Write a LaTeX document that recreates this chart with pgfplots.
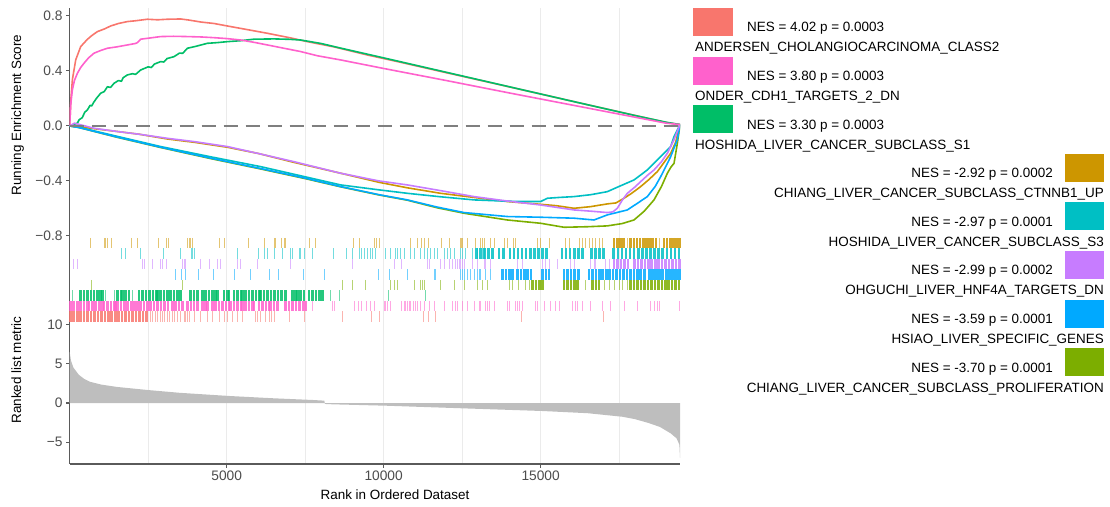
\documentclass[border=0pt]{standalone}
\usepackage{fontspec}
\setmainfont{Liberation Sans}
\usepackage{pgfplots}
\pgfplotsset{compat=1.18}
\definecolor{c1}{HTML}{F8766D}
\definecolor{c2}{HTML}{CD9600}
\definecolor{c3}{HTML}{7CAE00}
\definecolor{c4}{HTML}{00BE67}
\definecolor{c5}{HTML}{00BFC4}
\definecolor{c6}{HTML}{00A9FF}
\definecolor{c7}{HTML}{C77CFF}
\definecolor{c8}{HTML}{FF61CC}
\definecolor{gridc}{HTML}{EBEBEB}
\definecolor{axisc}{HTML}{5A5A5A}
\definecolor{tickc}{HTML}{4D4D4D}
\definecolor{dashc}{HTML}{7F7F7F}
\definecolor{fillc}{HTML}{BEBEBE}
\newcommand\tickf{\fontsize{13.8}{15}\selectfont}
\newcommand\titlef{\fontsize{13.5}{16}\selectfont}
\newcommand\legf{\fontsize{13.5}{16}\selectfont}
\pgfplotsset{
  gsea/.style={
    scale only axis, width=610.3bp, xmin=0, xmax=19440,
    anchor=south west, scaled x ticks=false, scaled y ticks=false,
    axis x line*=bottom, axis y line*=left,
    axis line style={draw=axisc, line width=1.1bp},
    xtick={5000,10000,15000}, minor xtick={2500,7500,12500,17500},
    xmajorgrids=true, xminorgrids=true,
    major grid style={draw=gridc, line width=1bp},
    minor grid style={draw=gridc, line width=0.6bp},
    tick align=outside, major tick length=3.6bp, minor tick length=0bp,
    tick style={draw=axisc, line width=1.1bp},
    tick label style={font=\tickf, text=tickc},
  },
  es/.style={line width=1.6bp, line join=round},
  rugs/.style={only marks, mark=|, mark size=5.23bp, mark options={line width=1bp, draw=#1, draw opacity=0.55}},
  rugd/.style={only marks, mark=|, mark size=5.23bp, mark options={line width=2.6bp, draw=#1, draw opacity=0.85}},
}
\begin{document}
\begin{tikzpicture}[x=1bp,y=1bp]
\useasboundingbox (0,0) rectangle (1110,507);
% ---------------- top panel: running enrichment score
\begin{axis}[gsea, at={(69.7bp,269bp)}, height=230bp,
  ymin=-0.815, ymax=0.858,
  ytick={-0.8,-0.4,0,0.4,0.8}, yticklabels={−0.8,−0.4,0.0,0.4,0.8},
  xticklabels={}, x axis line style={draw=none}, xtick style={draw=none}]
% ANDERSEN
\addplot[es, c1] coordinates {(0,0) (40,0.2) (85,0.335) (191,0.48) (350,0.577) (563,0.63) (720,0.66) (882,0.686) (1100,0.705) (1306,0.727) (1550,0.745) (1837,0.759) (2100,0.765) (2474,0.776) (2800,0.772) (3112,0.776) (3535,0.778) (3800,0.77) (4172,0.756) (4600,0.745) (5022,0.727) (5600,0.703) (6296,0.674) (7000,0.642) (7570,0.613) (8419,0.575) (9481,0.516) (10500,0.465) (12000,0.387) (13500,0.31) (15001,0.232) (16500,0.154) (18000,0.077) (19000,0.025) (19440,0.01)};
% CHIANG CTNNB1
\addplot[es, c2] coordinates {(0,0) (300,-0.005) (775,-0.02) (1500,-0.04) (2200,-0.06) (3112,-0.095) (4000,-0.12) (5022,-0.155) (6000,-0.2) (7144,-0.265) (8631,-0.344) (9852,-0.41) (10754,-0.45) (11816,-0.49) (12878,-0.52) (13940,-0.55) (15001,-0.57) (15500,-0.58) (16063,-0.599) (16594,-0.587) (17125,-0.567) (17400,-0.56) (17656,-0.526) (17900,-0.49) (18187,-0.441) (18450,-0.39) (18718,-0.332) (18950,-0.26) (19143,-0.199) (19300,-0.12) (19440,0.01)};
% CHIANG PROLIFERATION
\addplot[es, c3] coordinates {(0,0) (300,-0.012) (1500,-0.082) (2898,-0.157) (4500,-0.238) (6083,-0.313) (7500,-0.383) (8631,-0.443) (9852,-0.502) (10754,-0.54) (11700,-0.595) (12559,-0.635) (13940,-0.684) (15001,-0.708) (15745,-0.737) (16500,-0.733) (17125,-0.727) (17600,-0.71) (17974,-0.684) (18300,-0.62) (18612,-0.538) (18850,-0.44) (19037,-0.344) (19150,-0.3) (19249,-0.272) (19355,-0.127) (19440,0.01)};
% HOSHIDA S1
\addplot[es, c4] coordinates {(0,0) (120,0.01) (245,0.02) (300,0.045) (400,0.06) (480,0.1) (563,0.116) (650,0.15) (700,0.145) (760,0.17) (850,0.2) (987,0.238) (1100,0.25) (1200,0.285) (1300,0.28) (1412,0.31) (1550,0.33) (1650,0.325) (1700,0.35) (1837,0.371) (2000,0.38) (2100,0.375) (2261,0.407) (2500,0.43) (2600,0.425) (2700,0.45) (2898,0.468) (3000,0.465) (3100,0.49) (3323,0.504) (3500,0.53) (3600,0.528) (3748,0.565) (4000,0.578) (4386,0.601) (4700,0.606) (5022,0.613) (5446,0.62) (5870,0.631) (6200,0.632) (6508,0.633) (7000,0.63) (7357,0.625) (8000,0.6) (8631,0.566) (10000,0.495) (12000,0.39) (14000,0.285) (16000,0.18) (18000,0.076) (19000,0.027) (19440,0.01)};
% HOSHIDA S3
\addplot[es, c5] coordinates {(0,0) (300,-0.01) (1500,-0.075) (2898,-0.15) (4500,-0.225) (6083,-0.296) (7500,-0.37) (8631,-0.429) (9852,-0.465) (10754,-0.49) (11800,-0.515) (12878,-0.538) (14000,-0.548) (15001,-0.55) (15213,-0.526) (15600,-0.52) (16063,-0.514) (16600,-0.5) (17125,-0.478) (17500,-0.44) (17974,-0.393) (18399,-0.32) (18824,-0.223) (19143,-0.15) (19249,-0.078) (19440,0.01)};
% HSIAO
\addplot[es, c6] coordinates {(0,0) (300,-0.012) (1500,-0.08) (2898,-0.155) (4500,-0.235) (6083,-0.31) (7500,-0.38) (8631,-0.441) (9852,-0.5) (10754,-0.538) (11700,-0.59) (12559,-0.63) (13940,-0.659) (15001,-0.664) (16063,-0.671) (16700,-0.684) (17125,-0.647) (17762,-0.611) (18100,-0.56) (18399,-0.514) (18650,-0.44) (18824,-0.369) (19000,-0.29) (19143,-0.223) (19355,-0.1) (19440,0.01)};
% OHGUCHI
\addplot[es, c7] coordinates {(0,0) (150,0.02) (775,-0.017) (1500,-0.04) (2200,-0.06) (3112,-0.09) (4000,-0.115) (5022,-0.15) (6000,-0.2) (7144,-0.26) (8631,-0.344) (9852,-0.4) (10754,-0.429) (11800,-0.47) (12878,-0.514) (13900,-0.545) (15001,-0.575) (16063,-0.611) (16600,-0.62) (17125,-0.63) (17300,-0.625) (17443,-0.599) (17600,-0.54) (17762,-0.49) (18000,-0.445) (18187,-0.405) (18400,-0.36) (18612,-0.32) (18850,-0.26) (19037,-0.199) (19249,-0.1) (19440,0.01)};
% ONDER
\addplot[es, c8] coordinates {(0,0) (30,0.15) (85,0.262) (150,0.33) (245,0.383) (350,0.425) (456,0.456) (600,0.495) (774,0.529) (1000,0.55) (1200,0.565) (1500,0.575) (1837,0.589) (2100,0.6) (2155,0.606) (2261,0.631) (2500,0.638) (2898,0.65) (3300,0.652) (3748,0.65) (4200,0.647) (4597,0.642) (5022,0.635) (5446,0.625) (5900,0.607) (6296,0.589) (6800,0.566) (7357,0.541) (7900,0.51) (8631,0.48) (10000,0.418) (12000,0.33) (14000,0.24) (16000,0.152) (18000,0.064) (19000,0.02) (19440,0.01)};
\addplot[dashc, line width=2.2bp, dash pattern=on 14bp off 8bp] coordinates {(0,0) (19440,0)};
\end{axis}
% ---------------- hits panel
\begin{axis}[gsea, at={(69.7bp,185.3bp)}, height=83.7bp,
  ymin=0, ymax=8, ytick=\empty,
  xticklabels={}, x axis line style={draw=none}, xtick style={draw=none}]
% CHIANG CTNNB1 (row 7.5)
\addplot[rugs=c2] table[y expr=7.5, row sep=\\] {x\\ 669\\ 1094\\ 1147\\ 1200\\ 1327\\ 1964\\ 2156\\ 2814\\ 3069\\ 3133\\ 3749\\ 3802\\ 3855\\ 3908\\ 4768\\ 4917\\ 5681\\ 6213\\ 6510\\ 6561\\ 6742\\ 6827\\ 6869\\ 7623\\ 7836\\ 9036\\ 9227\\ 9715\\ 9779\\ 9864\\ 10862\\ 11075\\ 11202\\ 11308\\ 11415\\ 11840\\ 12105\\ 12434\\ 12477\\ 12519\\ 12668\\ 12934\\ 13090\\ 13157\\ 13197\\ 13409\\ 13515\\ 13834\\ 13940\\ 14152\\ 14205\\ 14896\\ 15002\\ 15267\\ 15798\\ 15905\\ 16223\\ 16329\\ 16435\\ 16542\\ 16648\\ 16754\\ 16860\\ 16967\\ 17760\\ 18800\\};
\addplot[rugd=c2] table[y expr=7.5, row sep=\\] {x\\ 17340\\ 17440\\ 17540\\ 17640\\ 17870\\ 17970\\ 18070\\ 18170\\ 18270\\ 18370\\ 18470\\ 18570\\ 18670\\ 18930\\ 19030\\ 19130\\ 19230\\ 19330\\ 19420\\};
% HOSHIDA S3 (row 6.5)
\addplot[rugs=c5] table[y expr=6.5, row sep=\\] {x\\ 1646\\ 1784\\ 2262\\ 2984\\ 3515\\ 3876\\ 3919\\ 3961\\ 5342\\ 6000\\ 6191\\ 6297\\ 6510\\ 6774\\ 7039\\ 7092\\ 7305\\ 7358\\ 7464\\ 7730\\ 8399\\ 8823\\ 9004\\ 9216\\ 9291\\ 9376\\ 9482\\ 9588\\ 9641\\ 9747\\ 10066\\ 10225\\ 10385\\ 10438\\ 10544\\ 10650\\ 10862\\ 10969\\ 11181\\ 11287\\ 11393\\ 11500\\ 11606\\ 11712\\ 11924\\ 12031\\ 12137\\ 12243\\ 12434\\ 12508\\ 12615\\ 12827\\ 12986\\ 13146\\ 13199\\};
\addplot[rugd=c5] table[y expr=6.5, row sep=\\] {x\\ 12950\\ 13080\\ 13210\\ 13340\\ 13470\\ 13680\\ 13810\\ 14020\\ 14150\\ 14280\\ 14410\\ 14540\\ 14670\\ 14800\\ 14930\\ 15060\\ 15190\\ 15680\\ 15810\\ 15940\\ 16070\\ 16200\\ 16330\\ 16620\\ 16750\\ 16880\\ 17010\\ 17330\\ 17460\\ 17590\\ 17720\\ 17850\\ 17980\\ 18110\\ 18240\\ 18370\\ 18500\\ 18630\\ 18760\\ 18890\\ 19020\\ 19150\\ 19280\\ 19410\\};
% OHGUCHI (row 5.5)
\addplot[rugs=c7] table[y expr=5.5, row sep=\\] {x\\ 117\\ 244\\ 2315\\ 2368\\ 2634\\ 2899\\ 2952\\ 3090\\ 3589\\ 3642\\ 3695\\ 4173\\ 4439\\ 4704\\ 4789\\ 5342\\ 5448\\ 5979\\ 7018\\ 9004\\ 10353\\ 10576\\ 11393\\ 11446\\ 11818\\ 11924\\ 12084\\ 12190\\ 12296\\ 12349\\ 12402\\ 12455\\ 12508\\ 12562\\ 12827\\ 12986\\ 13199\\ 13250\\ 13409\\ 14259\\ 14418\\ 15055\\ 15161\\ 15267\\ 15533\\ 15958\\ 16064\\ 16595\\ 16701\\ 16754\\ 17073\\ 17179\\};
\addplot[rugd=c7] table[y expr=5.5, row sep=\\] {x\\ 17340\\ 17450\\ 17560\\ 17670\\ 17780\\ 17990\\ 18100\\ 18210\\ 18320\\ 18430\\ 18540\\ 18650\\ 18760\\ 18870\\ 18980\\ 19090\\ 19200\\ 19310\\ 19420\\};
% HSIAO (row 4.5)
\addplot[rugs=c6] table[y expr=4.5, row sep=\\] {x\\ 3377\\ 3557\\ 3695\\ 4088\\ 4577\\ 5257\\ 5766\\ 6351\\ 6636\\ 7443\\ 8122\\ 9822\\ 10172\\ 10756\\ 11606\\ 11659\\ 12455\\ 12508\\ 12562\\ 12668\\ 12774\\ 12880\\ 12986\\ 13040\\ 13093\\ 13250\\ 13409\\};
\addplot[rugd=c6] table[y expr=4.5, row sep=\\] {x\\ 13780\\ 13900\\ 14000\\ 14110\\ 14260\\ 14370\\ 14480\\ 14590\\ 14690\\ 15060\\ 15170\\ 15270\\ 15750\\ 15860\\ 15970\\ 16080\\ 16200\\ 16540\\ 16650\\ 16760\\ 16870\\ 16980\\ 17090\\ 17200\\ 17310\\ 17420\\ 17530\\ 17640\\ 17750\\ 17860\\ 17970\\ 18080\\ 18190\\ 18300\\ 18450\\ 18540\\ 18630\\ 18720\\ 18810\\ 18900\\ 18990\\ 19080\\ 19170\\ 19260\\ 19350\\ 19430\\};
% CHIANG PROLIFERATION (row 3.5)
\addplot[rugs=c3] table[y expr=3.5, row sep=\\] {x\\ 690\\ 3589\\ 8685\\ 9004\\ 9429\\ 10225\\ 10331\\ 10438\\ 10969\\ 11181\\ 11234\\ 11308\\ 11818\\ 12243\\ 12562\\ 12986\\ 13146\\ 13303\\ 13993\\ 14099\\ 14290\\ 14524\\ 14630\\ 16435\\ 17020\\ 17179\\ 17338\\ 17498\\ 17604\\ 17763\\};
\addplot[rugd=c3] table[y expr=3.5, row sep=\\] {x\\ 14740\\ 14850\\ 14960\\ 15055\\ 15750\\ 15860\\ 15970\\ 16080\\ 16170\\ 16650\\ 16760\\ 16860\\ 17870\\ 17980\\ 18090\\ 18200\\ 18310\\ 18420\\ 18530\\ 18640\\ 18750\\ 18860\\ 18970\\ 19080\\ 19190\\ 19300\\ 19410\\};
% HOSHIDA S1 (row 2.5)
\addplot[rugs=c4] table[y expr=2.5, row sep=\\] {x\\ 85\\ 1147\\ 1412\\ 1996\\ 8292\\ 8600\\ 10140\\ 11319\\};
\addplot[rugd=c4] table[y expr=2.5, row sep=\\] {x\\ 350\\ 460\\ 570\\ 680\\ 775\\ 880\\ 990\\ 1040\\ 1518\\ 1628\\ 1678\\ 1784\\ 1890\\ 2209\\ 2320\\ 2430\\ 2540\\ 2650\\ 2760\\ 2793\\ 2899\\ 3010\\ 3120\\ 3218\\ 3324\\ 3430\\ 3536\\ 3855\\ 3960\\ 4067\\ 4227\\ 4330\\ 4439\\ 4545\\ 4650\\ 4704\\ 4917\\ 5020\\ 5076\\ 5235\\ 5340\\ 5450\\ 5501\\ 5607\\ 5710\\ 5820\\ 5930\\ 6040\\ 6085\\ 6191\\ 6300\\ 6410\\ 6520\\ 6630\\ 6740\\ 6880\\ 7092\\ 7200\\ 7252\\ 7358\\ 7464\\ 7623\\ 7730\\ 7840\\ 7950\\ 8048\\};
% ONDER (row 1.5)
\addplot[rugs=c8] table[y expr=1.5, row sep=\\] {x\\ 7730\\ 8367\\ 8441\\ 9078\\ 9184\\ 9291\\ 9461\\ 9567\\ 9694\\ 10013\\ 10066\\ 10119\\ 10225\\ 10565\\ 10650\\ 10700\\ 10760\\ 10809\\ 10862\\ 10950\\ 11000\\ 11075\\ 11181\\ 11308\\ 11446\\ 11606\\ 11924\\ 12190\\ 12296\\ 12349\\ 12508\\ 12668\\ 12880\\ 13040\\ 13090\\ 13250\\ 13303\\ 13356\\ 13515\\ 13940\\ 13993\\ 14205\\ 14259\\ 14312\\ 14418\\ 14843\\ 14896\\ 15108\\ 15320\\ 15480\\ 15586\\ 16011\\ 16117\\ 16170\\ 16329\\ 16595\\ 16967\\ 17232\\ 17657\\ 18082\\ 18507\\ 18613\\ 18719\\ 18772\\ 19409\\};
\addplot[rugd=c8] table[y expr=1.5, row sep=\\] {x\\ 20\\ 130\\ 240\\ 350\\ 460\\ 563\\ 616\\ 720\\ 830\\ 940\\ 1040\\ 1094\\ 1200\\ 1310\\ 1420\\ 1465\\ 1518\\ 1630\\ 1740\\ 1850\\ 1960\\ 2070\\ 2156\\ 2262\\ 2370\\ 2480\\ 2580\\ 2686\\ 2800\\ 2910\\ 3020\\ 3130\\ 3271\\ 3377\\ 3480\\ 3589\\ 3749\\ 3860\\ 3960\\ 4067\\ 4227\\ 4330\\ 4386\\ 4545\\ 4650\\ 4760\\ 4870\\ 4980\\ 5080\\ 5129\\ 5235\\ 5340\\ 5450\\ 5501\\ 5607\\ 5710\\ 5820\\ 5873\\ 6032\\ 6140\\ 6250\\ 6351\\ 6404\\ 6510\\ 6614\\ 6880\\ 6990\\ 7100\\ 7210\\ 7320\\ 7430\\ 7517\\};
% ANDERSEN (row 0.5)
\addplot[rugs=c1] table[y expr=0.5, row sep=\\] {x\\ 2580\\ 2650\\ 2720\\ 2800\\ 2880\\ 2950\\ 3030\\ 3100\\ 3180\\ 3260\\ 3350\\ 3430\\ 3536\\ 3642\\ 3700\\ 3760\\ 3802\\ 3961\\ 4173\\ 4386\\ 4545\\ 4758\\ 4917\\ 5023\\ 5182\\ 5342\\ 5501\\ 5925\\ 5979\\ 6085\\ 6244\\ 6351\\ 6423\\ 6510\\ 6986\\ 7464\\ 8685\\ 9609\\ 9853\\ 11266\\ 11415\\ 11659\\ 14386\\ 16988\\};
\addplot[rugd=c1] table[y expr=0.5, row sep=\\] {x\\ 20\\ 130\\ 240\\ 350\\ 460\\ 570\\ 680\\ 790\\ 900\\ 1010\\ 1120\\ 1230\\ 1340\\ 1450\\ 1560\\ 1670\\ 1780\\ 1890\\ 2000\\ 2110\\ 2220\\ 2330\\ 2440\\};
\end{axis}
% ---------------- bottom panel: ranked list metric
\begin{axis}[gsea, at={(69.7bp,43bp)}, height=142.3bp,
  ymin=-7.77, ymax=10.36,
  ytick={-5,0,5,10}, yticklabels={−5,0,5,10},
  xticklabels={5000,10000,15000}]
\addplot[fill=fillc, draw=none] coordinates {(0,6.5) (40,5.4) (120,4.5) (290,3.6) (450,3.1) (650,2.7) (1000,2.35) (1500,2.05) (2500,1.65) (3500,1.3) (5060,0.9) (6500,0.6) (7770,0.38) (8110,0.3) (8130,-0.12) (8400,-0.17) (10040,-0.34) (12540,-0.68) (15060,-1.02) (16500,-1.3) (17600,-1.75) (18000,-2.05) (18440,-2.55) (18800,-3.05) (19140,-3.86) (19330,-4.5) (19420,-5.3) (19440,-7.0)} \closedcycle;
\end{axis}
% ---------------- axis titles
\node[rotate=90, anchor=base, inner sep=0, font=\titlef] at (21,392) {Running Enrichment Score};
\node[rotate=90, anchor=base, inner sep=0, font=\titlef] at (21,137) {Ranked list metric};
\node[anchor=base, inner sep=0, font=\titlef] at (395,7) {Rank in Ordered Dataset};
% ---------------- legend
\begin{scope}[shift={(0,507)}, every node/.style={inner sep=0, font=\legf}]
\fill[c1] (693,-8) rectangle (733,-36);
\node[anchor=base west] at (747,-32) {NES = 4.02 p = 0.0003};
\node[anchor=base west] at (695,-52) {ANDERSEN\_CHOLANGIOCARCINOMA\_CLASS2};
\fill[c8] (693,-56.6) rectangle (733,-84.6);
\node[anchor=base west] at (747,-80.6) {NES = 3.80 p = 0.0003};
\node[anchor=base west] at (695,-100.6) {ONDER\_CDH1\_TARGETS\_2\_DN};
\fill[c4] (693,-105.2) rectangle (733,-133.2);
\node[anchor=base west] at (747,-129.2) {NES = 3.30 p = 0.0003};
\node[anchor=base west] at (695,-149.2) {HOSHIDA\_LIVER\_CANCER\_SUBCLASS\_S1};
\fill[c2] (1065,-153.8) rectangle (1104,-181.8);
\node[anchor=base east] at (1053,-177.8) {NES = -2.92 p = 0.0002};
\node[anchor=base east] at (1104,-197.8) {CHIANG\_LIVER\_CANCER\_SUBCLASS\_CTNNB1\_UP};
\fill[c5] (1065,-202.4) rectangle (1104,-230.4);
\node[anchor=base east] at (1053,-226.4) {NES = -2.97 p = 0.0001};
\node[anchor=base east] at (1104,-246.4) {HOSHIDA\_LIVER\_CANCER\_SUBCLASS\_S3};
\fill[c7] (1065,-251) rectangle (1104,-279);
\node[anchor=base east] at (1053,-275) {NES = -2.99 p = 0.0002};
\node[anchor=base east] at (1104,-295) {OHGUCHI\_LIVER\_HNF4A\_TARGETS\_DN};
\fill[c6] (1065,-299.6) rectangle (1104,-327.6);
\node[anchor=base east] at (1053,-323.6) {NES = -3.59 p = 0.0001};
\node[anchor=base east] at (1104,-343.6) {HSIAO\_LIVER\_SPECIFIC\_GENES};
\fill[c3] (1065,-348.2) rectangle (1104,-376.2);
\node[anchor=base east] at (1053,-372.2) {NES = -3.70 p = 0.0001};
\node[anchor=base east] at (1104,-392.2) {CHIANG\_LIVER\_CANCER\_SUBCLASS\_PROLIFERATION};
\end{scope}
\end{tikzpicture}
\end{document}
